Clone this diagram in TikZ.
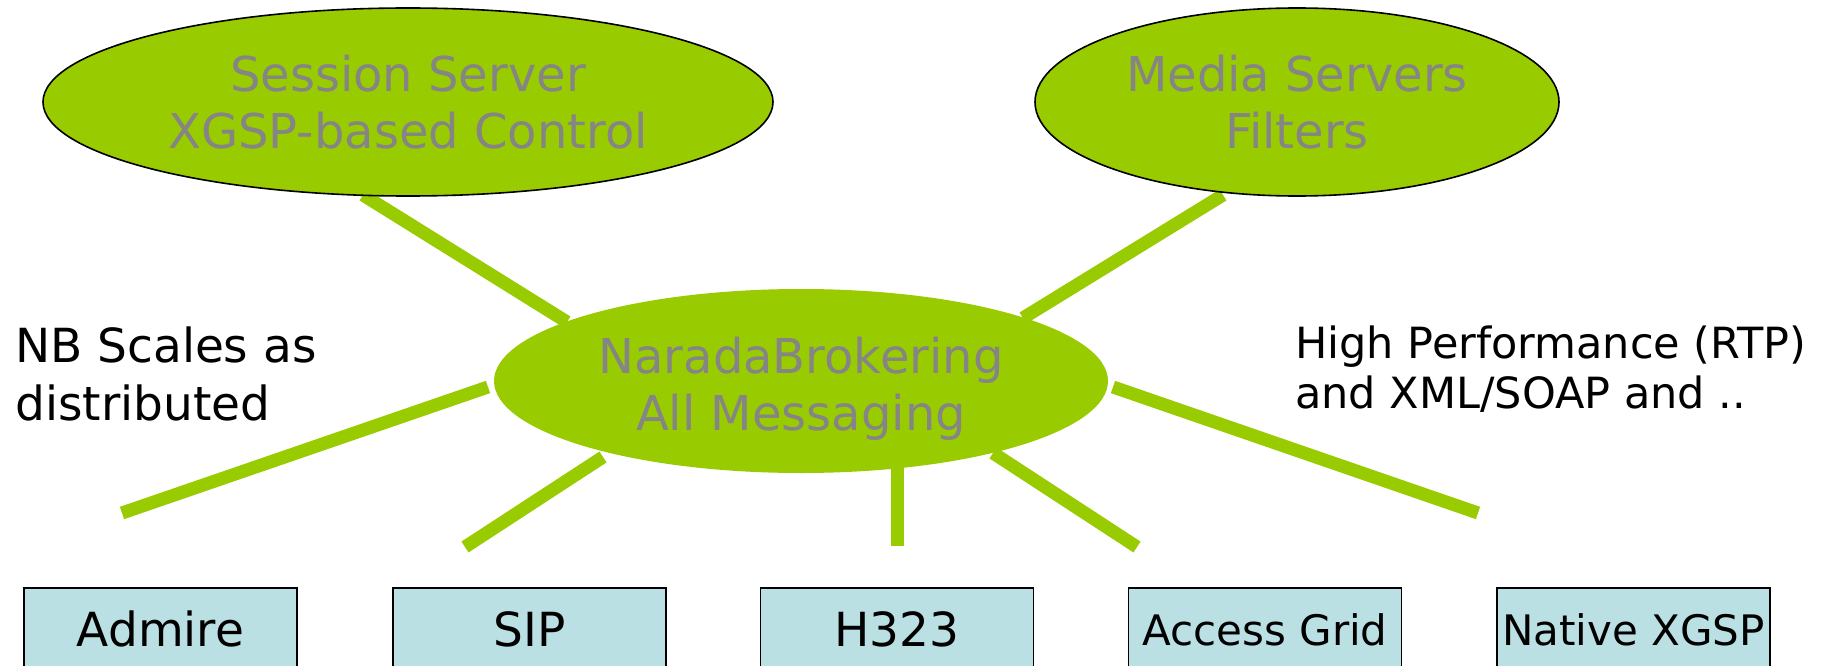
\documentclass[tikz,border=0pt]{standalone}
\usepackage{fontspec}
\setmainfont{DejaVu Sans}
\usetikzlibrary{shapes.geometric}
\definecolor{lime}{HTML}{99CC00}
\definecolor{boxblue}{HTML}{BBE0E3}
\definecolor{txtgray}{HTML}{858585}
\begin{document}
\begin{tikzpicture}[x=1pt,y=-1pt,
  spoke/.style={draw=lime, line width=13pt, line cap=butt},
  bubble/.style={ellipse, fill=lime, draw=black, line width=1.6pt, inner sep=0pt,
    text=txtgray, align=center, font=\fontsize{48}{57}\selectfont},
  client/.style={rectangle, fill=boxblue, draw=black, line width=1.6pt, anchor=north,
    minimum width=273pt, minimum height=84pt, inner sep=0pt, text depth=0pt},
  bigtxt/.style={font=\fontsize{47}{56}\selectfont, text height=34pt},
  smalltxt/.style={font=\fontsize{42}{50}\selectfont, text height=30.6pt},
  note/.style={inner sep=0pt, align=left, anchor=west}
]
\useasboundingbox (0,0) rectangle (1828,666);
\clip (0,0) rectangle (1828,666);
\fill[white] (0,0) rectangle (1828,666);

% connector end points
\coordinate (s1) at (363,195); \coordinate (s2) at (567,322);
\coordinate (m1) at (1223,195); \coordinate (m2) at (1023,318);
\coordinate (a1) at (488,387); \coordinate (a2) at (122,513);
\coordinate (b1) at (603,457); \coordinate (b2) at (465,547);
\coordinate (c1) at (897,465); \coordinate (c2) at (897,546);
\coordinate (d1) at (993,453); \coordinate (d2) at (1137,547);
\coordinate (e1) at (1113,387); \coordinate (e2) at (1478,513);

\draw[spoke] (s1) -- (s2);
\draw[spoke] (m1) -- (m2);
\draw[spoke] (a1) -- (a2);
\draw[spoke] (b1) -- (b2);
\draw[spoke] (c1) -- (c2);
\draw[spoke] (d1) -- (d2);
\draw[spoke] (e1) -- (e2);

\node[bubble, minimum width=730pt, minimum height=188pt] (sess) at (408,102)
  {Session Server\\XGSP-based Control};
\node[bubble, minimum width=524pt, minimum height=188pt] (media) at (1297,102)
  {Media Servers\\Filters};
\node[bubble, draw=none, minimum width=614pt, minimum height=184pt] (nb) at (801,381)
  {\rule{0pt}{51pt}NaradaBrokering\\All Messaging};

\node[note, font=\fontsize{47}{58}\selectfont] (left) at (15,374)
  {NB Scales as\\distributed};
\node[note, font=\fontsize{43}{50}\selectfont] (right) at (1295,369.5)
  {High Performance (RTP)\\and XML/SOAP and ..};

\node[client, bigtxt] (admire) at (160.5,587) {Admire};
\node[client, bigtxt] (sip) at (529.5,587) {SIP};
\node[client, bigtxt] (h323) at (897,587) {H323};
\node[client, smalltxt] (ag) at (1265,587) {Access Grid};
\node[client, smalltxt] (native) at (1633.5,587) {Native XGSP};
\end{tikzpicture}
\end{document}
